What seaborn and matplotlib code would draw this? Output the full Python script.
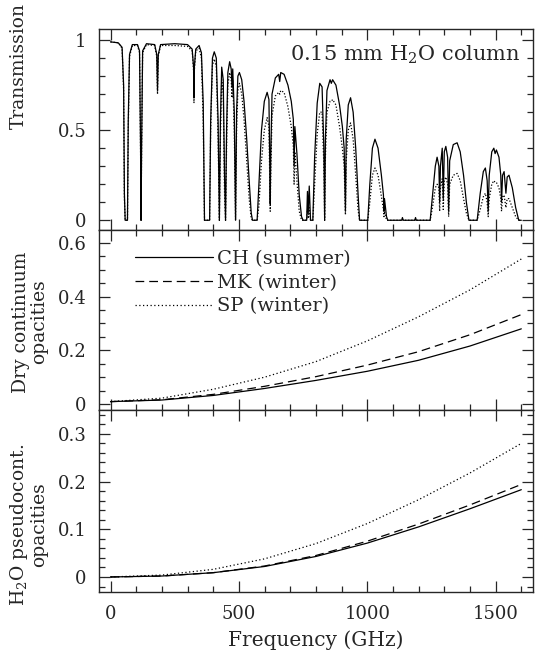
import numpy as np
import pandas as pd
import matplotlib
matplotlib.use("Agg")
import matplotlib.pyplot as plt
from matplotlib.ticker import MultipleLocator, FuncFormatter
import seaborn as sns

# --- top panel: atmospheric transmission, 0.15 mm H2O column
trans_freq = [0, 30, 45, 51, 54, 57, 66, 69, 74, 85, 105, 113, 117, 119, 121, 125, 140, 172, 180, 183,
              186, 195, 250, 300, 318, 323.5, 325, 326.5, 332, 345, 354, 361, 366, 386, 390, 397, 404,
              412, 419, 424, 428, 433, 439, 444, 448, 452, 457, 464, 470, 473, 476, 482, 487, 491, 496,
              502, 511, 520, 530, 540, 548, 553, 571, 578, 588, 599, 610, 617, 620, 622, 624, 629, 642,
              655, 659, 663, 676, 691, 704, 712, 715, 718, 726, 735, 744, 750, 764, 767, 770, 774, 779,
              788, 795, 805, 815, 824, 831, 834, 837, 843, 855, 860, 865, 878, 892, 903, 910, 915, 918,
              926, 935, 945, 955, 964, 970, 1002, 1010, 1020, 1030, 1042, 1055, 1063, 1065, 1067, 1075,
              1080, 1134, 1137, 1140, 1185, 1188, 1191, 1245, 1255, 1265, 1272, 1279, 1282, 1285, 1292,
              1296, 1300, 1306, 1313, 1317, 1321, 1335, 1350, 1362, 1375, 1386, 1396, 1428, 1440, 1452,
              1460, 1467, 1471, 1475, 1485, 1493, 1498, 1503, 1513, 1520, 1523, 1527, 1533, 1540, 1545,
              1552, 1565, 1578, 1590, 1600]
trans_ch = [0.99, 0.985, 0.96, 0.75, 0.15, 0.0, 0.0, 0.55, 0.92, 0.975, 0.975, 0.94, 0.4, 0.0, 0.4, 0.94,
            0.98, 0.975, 0.92, 0.72, 0.92, 0.975, 0.98, 0.975, 0.95, 0.85, 0.68, 0.85, 0.95, 0.97, 0.93,
            0.65, 0.0, 0.0, 0.55, 0.9, 0.935, 0.9, 0.55, 0.0, 0.55, 0.85, 0.78, 0.25, 0.0, 0.5, 0.82,
            0.88, 0.84, 0.74, 0.84, 0.6, 0.0, 0.6, 0.8, 0.82, 0.78, 0.66, 0.46, 0.22, 0.04, 0.0, 0.0,
            0.2, 0.5, 0.66, 0.71, 0.67, 0.35, 0.09, 0.35, 0.7, 0.79, 0.81, 0.77, 0.82, 0.81, 0.75, 0.66,
            0.56, 0.3, 0.52, 0.37, 0.14, 0.02, 0.0, 0.0, 0.16, 0.04, 0.19, 0.0, 0.0, 0.35, 0.65, 0.76,
            0.74, 0.4, 0.0, 0.45, 0.72, 0.78, 0.76, 0.78, 0.75, 0.64, 0.52, 0.4, 0.05, 0.45, 0.64, 0.68,
            0.6, 0.4, 0.15, 0.0, 0.0, 0.2, 0.4, 0.45, 0.4, 0.25, 0.14, 0.05, 0.12, 0.02, 0.0, 0.0, 0.015,
            0.0, 0.0, 0.015, 0.0, 0.0, 0.15, 0.3, 0.35, 0.3, 0.1, 0.3, 0.4, 0.12, 0.38, 0.41, 0.35, 0.05,
            0.33, 0.42, 0.43, 0.38, 0.25, 0.1, 0.0, 0.0, 0.15, 0.27, 0.29, 0.22, 0.05, 0.25, 0.38, 0.4,
            0.37, 0.39, 0.35, 0.25, 0.1, 0.25, 0.27, 0.15, 0.24, 0.25, 0.18, 0.07, 0.0, 0.0]
trans_sp = [0.99, 0.985, 0.955, 0.72, 0.12, 0.0, 0.0, 0.5, 0.91, 0.97, 0.97, 0.93, 0.38, 0.0, 0.38, 0.93,
            0.975, 0.97, 0.91, 0.7, 0.91, 0.97, 0.97, 0.965, 0.94, 0.83, 0.65, 0.83, 0.94, 0.955, 0.9,
            0.55, 0.0, 0.0, 0.5, 0.86, 0.895, 0.85, 0.45, 0.0, 0.45, 0.78, 0.7, 0.15, 0.0, 0.4, 0.75,
            0.82, 0.78, 0.68, 0.78, 0.5, 0.0, 0.5, 0.72, 0.76, 0.7, 0.56, 0.34, 0.12, 0.01, 0.0, 0.0,
            0.08, 0.33, 0.5, 0.57, 0.52, 0.25, 0.05, 0.25, 0.58, 0.69, 0.71, 0.7, 0.72, 0.71, 0.63, 0.52,
            0.41, 0.2, 0.38, 0.22, 0.05, 0.0, 0.0, 0.0, 0.06, 0.01, 0.07, 0.0, 0.0, 0.2, 0.48, 0.6, 0.6,
            0.3, 0.0, 0.35, 0.6, 0.66, 0.66, 0.67, 0.64, 0.52, 0.4, 0.3, 0.03, 0.33, 0.5, 0.54, 0.45,
            0.25, 0.06, 0.0, 0.0, 0.1, 0.25, 0.29, 0.25, 0.13, 0.06, 0.02, 0.05, 0.0, 0.0, 0.0, 0.005,
            0.0, 0.0, 0.005, 0.0, 0.0, 0.08, 0.18, 0.2, 0.18, 0.05, 0.18, 0.23, 0.06, 0.22, 0.24, 0.2,
            0.02, 0.2, 0.25, 0.26, 0.22, 0.12, 0.04, 0.0, 0.0, 0.06, 0.13, 0.15, 0.1, 0.02, 0.12, 0.2,
            0.22, 0.21, 0.21, 0.18, 0.12, 0.05, 0.13, 0.14, 0.07, 0.12, 0.12, 0.07, 0.02, 0.0, 0.0]

# --- middle / bottom panels: continuum opacities
opac_freq = [0, 200, 400, 600, 800, 1000, 1200, 1400, 1600]
dry_ch = [0.009, 0.015, 0.032, 0.058, 0.088, 0.122, 0.163, 0.216, 0.280]
dry_mk = [0.009, 0.016, 0.036, 0.066, 0.102, 0.145, 0.195, 0.258, 0.333]
dry_sp = [0.009, 0.022, 0.055, 0.100, 0.158, 0.235, 0.325, 0.425, 0.540]
h2o_ch = [0.0, 0.002, 0.009, 0.022, 0.043, 0.071, 0.105, 0.143, 0.183]
h2o_mk = [0.0, 0.002, 0.009, 0.023, 0.045, 0.075, 0.111, 0.151, 0.194]
h2o_sp = [0.0, 0.004, 0.016, 0.038, 0.070, 0.112, 0.162, 0.218, 0.280]

site_labels = ["CH (summer)", "MK (winter)", "SP (winter)"]
styles = {"CH (summer)": "-", "MK (winter)": (0, (7, 4)), "SP (winter)": (0, (1, 2))}

sns.set_style("ticks")
plt.rcParams["font.family"] = ["DejaVu Serif"]
plt.rcParams["mathtext.fontset"] = "dejavuserif"

fig = plt.figure(figsize=(5.35, 6.58), dpi=100)
gs = fig.add_gridspec(3, 1, height_ratios=[200.7, 180.5, 181.5], hspace=0,
                      left=0.185, right=0.996, top=0.9555, bottom=0.1003)
ax1 = fig.add_subplot(gs[0])
ax2 = fig.add_subplot(gs[1], sharex=ax1)
ax3 = fig.add_subplot(gs[2], sharex=ax1)

# transmission
sns.lineplot(x=trans_freq, y=trans_ch, ax=ax1, color="k", lw=0.9, linestyle="-")
sns.lineplot(x=trans_freq, y=trans_sp, ax=ax1, color="k", lw=0.9, linestyle=(0, (1, 1.5)))
ax1.text(1595, 0.92, "0.15 mm H$_2$O column", ha="right", va="center", fontsize=15)

# opacities
for lab, vals in zip(site_labels, [dry_ch, dry_mk, dry_sp]):
    sns.lineplot(x=opac_freq, y=vals, ax=ax2, color="k", lw=0.9, linestyle=styles[lab], label=lab)
for lab, vals in zip(site_labels, [h2o_ch, h2o_mk, h2o_sp]):
    sns.lineplot(x=opac_freq, y=vals, ax=ax3, color="k", lw=0.9, linestyle=styles[lab])

ax2.legend(loc="upper left", bbox_to_anchor=(0.083, 0.89), frameon=False, fontsize=14,
           handlelength=4.0, handletextpad=0.2, labelspacing=0.3, borderpad=0, borderaxespad=0)

fmt = FuncFormatter(lambda v, _: f"{v:g}")
ax1.set_ylim(-0.054, 1.06)
ax1.yaxis.set_major_locator(MultipleLocator(0.5))
ax1.yaxis.set_minor_locator(MultipleLocator(0.1))
ax2.set_ylim(-0.024, 0.648)
ax2.yaxis.set_major_locator(MultipleLocator(0.2))
ax2.yaxis.set_minor_locator(MultipleLocator(0.05))
ax3.set_ylim(-0.0315, 0.349)
ax3.yaxis.set_major_locator(MultipleLocator(0.1))
ax3.yaxis.set_minor_locator(MultipleLocator(0.02))

ax3.set_xlim(-45, 1645)
for ax in (ax1, ax2, ax3):
    ax.xaxis.set_major_locator(MultipleLocator(500))
    ax.xaxis.set_minor_locator(MultipleLocator(100))
    ax.yaxis.set_major_formatter(fmt)
    ax.tick_params(which="both", direction="in", top=True, right=True, labelsize=13, pad=9, width=0.9)
    ax.tick_params(which="major", length=8)
    ax.tick_params(which="minor", length=4.5)
    for s in ax.spines.values():
        s.set_linewidth(1.0)
    ax.set_xlabel("")
ax1.tick_params(labelbottom=False)
ax2.tick_params(labelbottom=False)
ax3.xaxis.set_major_formatter(fmt)

ax1.set_ylabel("Transmission", fontsize=13.5)
ax1.yaxis.set_label_coords(-0.164, 0.815)
ax2.set_ylabel("Dry continuum\nopacities", fontsize=13.5, linespacing=1.0)
ax2.yaxis.set_label_coords(-0.1175, 0.49)
ax3.set_ylabel("H$_2$O pseudocont.\nopacities", fontsize=13.5, linespacing=1.0)
ax3.yaxis.set_label_coords(-0.1175, 0.37)
ax3.set_xlabel("Frequency (GHz)", fontsize=14.5, labelpad=6)

fig.savefig("out.png", dpi=100)
